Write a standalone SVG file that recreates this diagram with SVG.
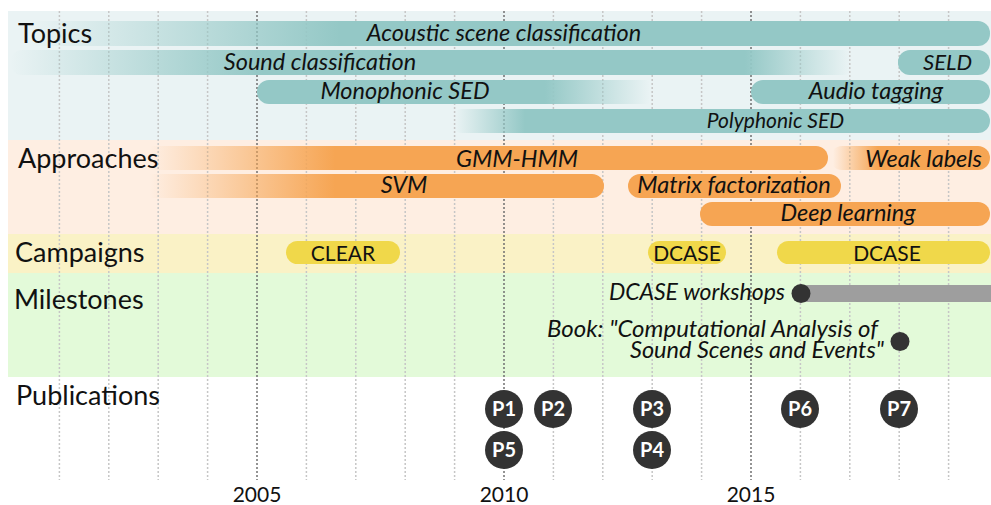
<svg xmlns="http://www.w3.org/2000/svg" width="991" height="505" viewBox="0 0 991 505">
  <style>
    .lbl { font-family: Lato, "Liberation Sans", sans-serif; font-size: 27px; fill: #111; }
    .bt { font-family: Lato, "Liberation Sans", sans-serif; font-size: 23.5px; font-style: italic; fill: #111; }
    .mt { font-family: Lato, "Liberation Sans", sans-serif; font-size: 23.5px; font-style: italic; fill: #111; text-anchor: end; }
    .ct { font-family: Lato, "Liberation Sans", sans-serif; font-size: 21px; fill: #111; text-anchor: middle; }
    .yr { font-family: Lato, "Liberation Sans", sans-serif; font-size: 21px; fill: #111; text-anchor: middle; }
    .pt { font-family: Lato, "Liberation Sans", sans-serif; font-size: 20px; font-weight: bold; fill: #fff; text-anchor: middle; }
    .minor { stroke: #c6c6c6; stroke-width: 1.5; stroke-dasharray: 2 2; }
    .major { stroke: #707070; stroke-width: 1.5; stroke-dasharray: 2 2; }
    .teal { fill: #94c8c6; }
    .orange { fill: #f6a553; }
    .yellow { fill: #f0d84a; }
    .dot { fill: #333; }
  </style>
  <defs>
    <linearGradient id="gAcoustic" gradientUnits="userSpaceOnUse" x1="30" y1="0" x2="340" y2="0">
      <stop offset="0" stop-color="#94c8c6" stop-opacity="0"/>
      <stop offset="1" stop-color="#94c8c6" stop-opacity="1"/>
    </linearGradient>
    <linearGradient id="gSound" gradientUnits="userSpaceOnUse" x1="10" y1="0" x2="850" y2="0">
      <stop offset="0" stop-color="#94c8c6" stop-opacity="0"/>
      <stop offset="0.3" stop-color="#94c8c6" stop-opacity="1"/>
      <stop offset="0.875" stop-color="#94c8c6" stop-opacity="1"/>
      <stop offset="1" stop-color="#94c8c6" stop-opacity="0"/>
    </linearGradient>
    <linearGradient id="gMono" gradientUnits="userSpaceOnUse" x1="545" y1="0" x2="650" y2="0">
      <stop offset="0" stop-color="#94c8c6" stop-opacity="1"/>
      <stop offset="1" stop-color="#94c8c6" stop-opacity="0"/>
    </linearGradient>
    <linearGradient id="gPoly" gradientUnits="userSpaceOnUse" x1="455" y1="0" x2="525" y2="0">
      <stop offset="0" stop-color="#94c8c6" stop-opacity="0"/>
      <stop offset="1" stop-color="#94c8c6" stop-opacity="1"/>
    </linearGradient>
    <linearGradient id="gGmm" gradientUnits="userSpaceOnUse" x1="150" y1="0" x2="335" y2="0">
      <stop offset="0" stop-color="#f6a553" stop-opacity="0"/>
      <stop offset="1" stop-color="#f6a553" stop-opacity="1"/>
    </linearGradient>
    <linearGradient id="gSvm" gradientUnits="userSpaceOnUse" x1="150" y1="0" x2="335" y2="0">
      <stop offset="0" stop-color="#f6a553" stop-opacity="0"/>
      <stop offset="1" stop-color="#f6a553" stop-opacity="1"/>
    </linearGradient>
    <linearGradient id="gWeak" gradientUnits="userSpaceOnUse" x1="833" y1="0" x2="878" y2="0">
      <stop offset="0" stop-color="#f6a553" stop-opacity="0"/>
      <stop offset="1" stop-color="#f6a553" stop-opacity="1"/>
    </linearGradient>
  </defs>

  <rect width="991" height="505" fill="#fff"/>

  <!-- row backgrounds -->
  <g id="bands">
    <rect x="8" y="11" width="983" height="129" fill="#eaf3f4"/>
    <rect x="8" y="140" width="983" height="94" fill="#feeee2"/>
    <rect x="8" y="234" width="983" height="39" fill="#faf2c6"/>
    <rect x="8" y="273" width="983" height="104" fill="#e3fad9"/>
  </g>

  <!-- yearly grid -->
  <g id="grid">
    <line class="minor" x1="59.4" y1="11" x2="59.4" y2="480"/>
    <line class="minor" x1="108.8" y1="11" x2="108.8" y2="480"/>
    <line class="minor" x1="158.2" y1="11" x2="158.2" y2="480"/>
    <line class="minor" x1="207.6" y1="11" x2="207.6" y2="480"/>
    <line class="major" x1="257" y1="11" x2="257" y2="480"/>
    <line class="minor" x1="306.4" y1="11" x2="306.4" y2="480"/>
    <line class="minor" x1="355.8" y1="11" x2="355.8" y2="480"/>
    <line class="minor" x1="405.2" y1="11" x2="405.2" y2="480"/>
    <line class="minor" x1="454.6" y1="11" x2="454.6" y2="480"/>
    <line class="major" x1="504" y1="11" x2="504" y2="480"/>
    <line class="minor" x1="553.4" y1="11" x2="553.4" y2="480"/>
    <line class="minor" x1="602.8" y1="11" x2="602.8" y2="480"/>
    <line class="minor" x1="652.2" y1="11" x2="652.2" y2="480"/>
    <line class="minor" x1="701.6" y1="11" x2="701.6" y2="480"/>
    <line class="major" x1="751" y1="11" x2="751" y2="480"/>
    <line class="minor" x1="800.4" y1="11" x2="800.4" y2="480"/>
    <line class="minor" x1="849.8" y1="11" x2="849.8" y2="480"/>
    <line class="minor" x1="899.2" y1="11" x2="899.2" y2="480"/>
    <line class="minor" x1="948.6" y1="11" x2="948.6" y2="480"/>
  </g>

  <!-- topics -->
  <g id="topic-acoustic">
    <rect x="20" y="21" width="970" height="25" rx="12" fill="url(#gAcoustic)"/>
    <text class="bt" x="504" y="41" text-anchor="middle">Acoustic scene classification</text>
  </g>
  <g id="topic-sound">
    <rect x="10" y="50" width="845" height="25" rx="12" fill="url(#gSound)"/>
    <text class="bt" x="320" y="69.5" text-anchor="middle">Sound classification</text>
  </g>
  <g id="topic-seld">
    <rect class="teal" x="898" y="50" width="92" height="25" rx="12"/>
    <text class="bt" x="972" y="70" text-anchor="end" style="font-size:22px">SELD</text>
  </g>
  <g id="topic-mono">
    <rect x="257" y="80" width="400" height="24" rx="12" fill="url(#gMono)"/>
    <text class="bt" x="405" y="99" text-anchor="middle">Monophonic SED</text>
  </g>
  <g id="topic-tagging">
    <rect class="teal" x="751" y="80" width="239" height="24" rx="12"/>
    <text class="bt" x="876" y="98.5" text-anchor="middle">Audio tagging</text>
  </g>
  <g id="topic-poly">
    <rect x="450" y="109" width="540" height="24" rx="12" fill="url(#gPoly)"/>
    <text class="bt" x="775.5" y="127.5" text-anchor="middle" style="font-size:21px">Polyphonic SED</text>
  </g>

  <!-- approaches -->
  <g id="approach-gmm">
    <rect x="140" y="146" width="688" height="24" rx="12" fill="url(#gGmm)"/>
    <text class="bt" x="517" y="166.5" text-anchor="middle">GMM-HMM</text>
  </g>
  <g id="approach-weak">
    <rect x="830" y="146" width="160" height="24" rx="12" fill="url(#gWeak)"/>
    <text class="bt" x="982" y="166.5" text-anchor="end">Weak labels</text>
  </g>
  <g id="approach-svm">
    <rect x="140" y="174" width="464" height="24" rx="12" fill="url(#gSvm)"/>
    <text class="bt" x="404" y="193" text-anchor="middle">SVM</text>
  </g>
  <g id="approach-matrix">
    <rect class="orange" x="628" y="174" width="213" height="24" rx="12"/>
    <text class="bt" x="734" y="192.5" text-anchor="middle">Matrix factorization</text>
  </g>
  <g id="approach-deep">
    <rect class="orange" x="700" y="202" width="290" height="24" rx="12"/>
    <text class="bt" x="848" y="220.5" text-anchor="middle">Deep learning</text>
  </g>

  <!-- campaigns -->
  <g id="campaign-clear">
    <rect class="yellow" x="286" y="241" width="114" height="23" rx="11.5"/>
    <text class="ct" x="343" y="260.5">CLEAR</text>
  </g>
  <g id="campaign-dcase1">
    <rect class="yellow" x="648" y="241" width="78" height="23" rx="11.5"/>
    <text class="ct" x="687" y="260.5">DCASE</text>
  </g>
  <g id="campaign-dcase2">
    <rect class="yellow" x="777" y="241" width="213" height="23" rx="11.5"/>
    <text class="ct" x="887" y="260.5">DCASE</text>
  </g>

  <!-- milestones -->
  <g id="milestone-workshops">
    <rect x="801" y="285" width="190" height="17" fill="#9e9e9e"/>
    <circle class="dot" cx="801" cy="293.5" r="9.5"/>
    <text class="mt" x="785" y="300" style="font-size:23px">DCASE workshops</text>
  </g>
  <g id="milestone-book">
    <circle class="dot" cx="900" cy="341.5" r="9.5"/>
    <text class="mt" x="878" y="336.5" style="font-size:24px">Book: "Computational Analysis of</text>
    <text class="mt" x="884" y="358">Sound Scenes and Events"</text>
  </g>

  <!-- publications -->
  <g id="pub-p1"><circle class="dot" cx="504" cy="409" r="19"/><text class="pt" x="504" y="416">P1</text></g>
  <g id="pub-p2"><circle class="dot" cx="553" cy="409" r="19"/><text class="pt" x="553" y="416">P2</text></g>
  <g id="pub-p3"><circle class="dot" cx="652" cy="409" r="19"/><text class="pt" x="652" y="416">P3</text></g>
  <g id="pub-p4"><circle class="dot" cx="652" cy="450" r="19"/><text class="pt" x="652" y="457">P4</text></g>
  <g id="pub-p5"><circle class="dot" cx="504" cy="450" r="19"/><text class="pt" x="504" y="457">P5</text></g>
  <g id="pub-p6"><circle class="dot" cx="800" cy="409" r="19"/><text class="pt" x="800" y="416">P6</text></g>
  <g id="pub-p7"><circle class="dot" cx="899" cy="409" r="19"/><text class="pt" x="899" y="416">P7</text></g>

  <!-- row labels -->
  <g id="labels">
    <text class="lbl" x="18" y="43">Topics</text>
    <text class="lbl" x="18" y="168">Approaches</text>
    <text class="lbl" x="15" y="262">Campaigns</text>
    <text class="lbl" x="14" y="309">Milestones</text>
    <text class="lbl" x="16" y="405">Publications</text>
  </g>

  <!-- axis years -->
  <g id="axis">
    <text class="yr" x="257" y="502">2005</text>
    <text class="yr" x="504" y="502">2010</text>
    <text class="yr" x="751" y="502">2015</text>
  </g>
</svg>
